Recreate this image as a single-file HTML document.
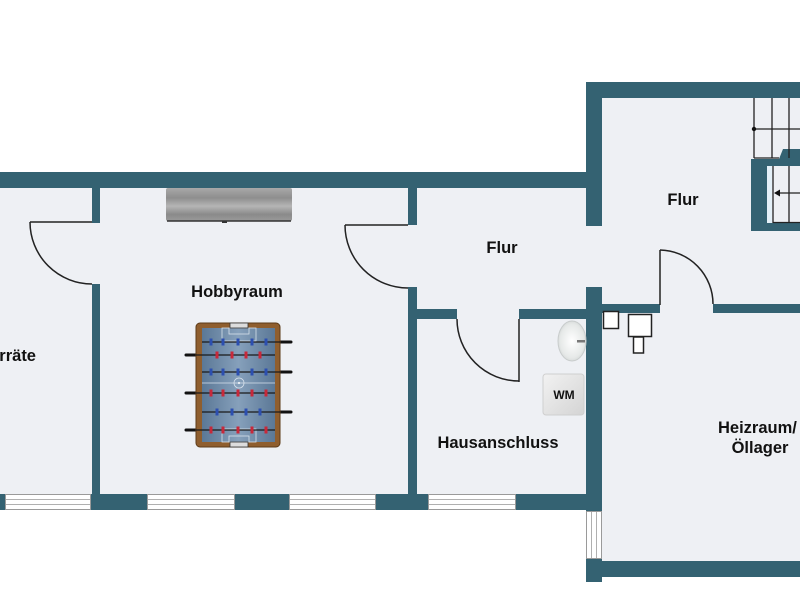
<!DOCTYPE html>
<html><head><meta charset="utf-8"><style>
html,body{margin:0;padding:0;background:#fff;}
svg{display:block;}
text{font-family:"Liberation Sans",Arial,sans-serif;font-weight:bold;fill:#111;}
</style></head><body>
<svg width="800" height="600" viewBox="0 0 800 600" xmlns="http://www.w3.org/2000/svg">
<defs>
<linearGradient id="rad" x1="0" y1="0" x2="0" y2="1">
<stop offset="0" stop-color="#a8a8a8"/><stop offset="0.3" stop-color="#8e8e8e"/><stop offset="0.55" stop-color="#b5b5b5"/><stop offset="0.8" stop-color="#8a8a8a"/><stop offset="1" stop-color="#9a9a9a"/>
</linearGradient>
<linearGradient id="field" x1="0" y1="0" x2="1" y2="0">
<stop offset="0" stop-color="#5b7896"/><stop offset="0.5" stop-color="#86a0bb"/><stop offset="1" stop-color="#5b7896"/>
</linearGradient>
<radialGradient id="sink" cx="0.5" cy="0.5" r="0.6">
<stop offset="0" stop-color="#ffffff"/><stop offset="0.7" stop-color="#e6e9e8"/><stop offset="1" stop-color="#c9cdcc"/>
</radialGradient>
<linearGradient id="wm" x1="0" y1="0" x2="1" y2="1">
<stop offset="0" stop-color="#f2f2f2"/><stop offset="1" stop-color="#d4d4d4"/>
</linearGradient>
</defs>
<rect width="800" height="600" fill="#fff"/>
<!-- floors -->
<rect x="0" y="180" width="600" height="322" fill="#eef0f4"/>
<rect x="594" y="90" width="206" height="480" fill="#eef0f4"/>

<g fill="#346272">
<!-- outer walls -->
<rect x="0" y="172" width="602" height="16"/>
<rect x="586" y="82" width="214" height="16"/>
<rect x="586" y="82" width="16" height="144"/>
<rect x="586" y="287" width="16" height="224"/>
<rect x="586" y="559" width="16" height="23"/>
<rect x="586" y="561" width="214" height="16"/>
<rect x="0" y="494" width="602" height="16"/>
<!-- interior walls -->
<rect x="92" y="188" width="8" height="35"/>
<rect x="92" y="284" width="8" height="210"/>
<rect x="408" y="188" width="9" height="37"/>
<rect x="408" y="287" width="9" height="207"/>
<rect x="408" y="309" width="49" height="10"/>
<rect x="519" y="309" width="67" height="10"/>
<rect x="602" y="304" width="58" height="9"/>
<rect x="713" y="304" width="87" height="9"/>
<!-- stair block -->
<path d="M751,159 L779,159 L783,149 L800,149 L800,231 L751,231 Z"/>
</g>

<!-- windows bottom -->
<g fill="#fff" stroke="#9a9a9a" stroke-width="1">
<rect x="5.5" y="494.5" width="85" height="15"/>
<rect x="147.5" y="494.5" width="87" height="15"/>
<rect x="289.5" y="494.5" width="86" height="15"/>
<rect x="428.5" y="494.5" width="87" height="15"/>
<rect x="586.5" y="511.5" width="15" height="47"/>
</g>
<g stroke="#b0b0b0" stroke-width="1">
<line x1="6" y1="499.5" x2="90" y2="499.5"/><line x1="6" y1="504.5" x2="90" y2="504.5"/>
<line x1="148" y1="499.5" x2="234" y2="499.5"/><line x1="148" y1="504.5" x2="234" y2="504.5"/>
<line x1="290" y1="499.5" x2="375" y2="499.5"/><line x1="290" y1="504.5" x2="375" y2="504.5"/>
<line x1="429" y1="499.5" x2="515" y2="499.5"/><line x1="429" y1="504.5" x2="515" y2="504.5"/>
<line x1="591.5" y1="512" x2="591.5" y2="558"/><line x1="596.5" y1="512" x2="596.5" y2="558"/>
</g>

<!-- doors -->
<g fill="none" stroke="#222" stroke-width="1.5">
<line x1="30" y1="222" x2="92" y2="222"/>
<path d="M30,222 A62,62 0 0 0 92,284"/>
<line x1="345" y1="225" x2="408" y2="225"/>
<path d="M345,225 A63,63 0 0 0 408,288"/>
<line x1="519" y1="319" x2="519" y2="382"/>
<path d="M457,319 A62,62 0 0 0 519,381"/>
<line x1="660" y1="305" x2="660" y2="250"/>
<path d="M660,250 A54,54 0 0 1 713,304"/>
</g>

<!-- stairs -->
<g stroke="#222" stroke-width="1.3" fill="none">
<line x1="754" y1="98" x2="754" y2="158"/>
<line x1="772" y1="98" x2="772" y2="158"/>
<line x1="789" y1="98" x2="789" y2="158"/>
<line x1="754" y1="129" x2="800" y2="129"/>
<line x1="754" y1="158" x2="779" y2="158"/>
</g>
<circle cx="754" cy="129" r="2.2" fill="#111"/>
<rect x="767" y="166" width="5" height="57" fill="#e4f0f8"/>
<rect x="772" y="166" width="28" height="57" fill="#eef0f4"/>
<g stroke="#222" stroke-width="1.3">
<line x1="773" y1="166" x2="773" y2="223"/>
<line x1="789" y1="166" x2="789" y2="223"/>
<line x1="773" y1="222.5" x2="800" y2="222.5"/>
<line x1="778" y1="193" x2="800" y2="193"/>
</g>
<path d="M774,193 L780,189.5 L780,196.5 Z" fill="#111"/>

<!-- small boxes -->
<g fill="#fff" stroke="#222" stroke-width="1.5">
<rect x="603.5" y="311.5" width="15" height="17"/>
<rect x="628.5" y="314.5" width="23" height="22"/>
<rect x="633.5" y="337" width="10" height="16"/>
</g>

<!-- sink -->
<ellipse cx="572" cy="341" rx="14" ry="20" fill="url(#sink)" stroke="#c8cccc" stroke-width="1"/>
<rect x="577" y="340" width="8" height="2.5" fill="#777"/>
<!-- WM -->
<rect x="543" y="374" width="41" height="41" rx="3" fill="url(#wm)" stroke="#cfcfcf"/>
<text x="564" y="399" font-size="12" text-anchor="middle">WM</text>

<!-- radiator -->
<rect x="166" y="188" width="126" height="33" rx="2" fill="url(#rad)"/>
<line x1="167" y1="221" x2="291" y2="221" stroke="#333" stroke-width="1.5"/>
<rect x="222" y="221" width="5" height="2" fill="#333"/>

<!-- foosball -->
<g stroke="#111" stroke-width="3" stroke-linecap="round">
<line x1="186" y1="355" x2="196" y2="355"/>
<line x1="186" y1="393" x2="196" y2="393"/>
<line x1="186" y1="430" x2="196" y2="430"/>
<line x1="280" y1="342" x2="291" y2="342"/>
<line x1="280" y1="372" x2="291" y2="372"/>
<line x1="280" y1="412" x2="291" y2="412"/>
</g>
<rect x="196" y="323" width="84" height="124" rx="4" fill="#8f5e2e" stroke="#5c3b19" stroke-width="1"/>
<rect x="202" y="328" width="73" height="114" fill="url(#field)"/>
<g fill="none" stroke="#d8e2ec" stroke-width="0.8">
<rect x="222" y="328" width="34" height="13"/>
<rect x="229" y="328" width="20" height="6"/>
<rect x="222" y="429" width="34" height="13"/>
<rect x="229" y="436" width="20" height="6"/>
<line x1="202" y1="383" x2="275" y2="383"/>
<circle cx="239" cy="383" r="5"/>
</g>
<circle cx="239" cy="383" r="1" fill="#fff"/>
<rect x="230" y="323" width="18" height="5" fill="#ddd" stroke="#333" stroke-width="0.8"/>
<rect x="230" y="442" width="18" height="5" fill="#ddd" stroke="#333" stroke-width="0.8"/>
<g stroke="#1a1a1a" stroke-width="1.2">
<line x1="202" y1="342" x2="280" y2="342"/>
<line x1="196" y1="355" x2="275" y2="355"/>
<line x1="202" y1="372" x2="280" y2="372"/>
<line x1="196" y1="393" x2="275" y2="393"/>
<line x1="202" y1="412" x2="280" y2="412"/>
<line x1="196" y1="430" x2="275" y2="430"/>
</g>
<g fill="#2c4fb0">
<rect x="209.5" y="338.5" width="3" height="7"/><rect x="221.5" y="338.5" width="3" height="7"/><rect x="236.5" y="338.5" width="3" height="7"/><rect x="250.5" y="338.5" width="3" height="7"/><rect x="264.5" y="338.5" width="3" height="7"/>
<rect x="209.5" y="368.5" width="3" height="7"/><rect x="221.5" y="368.5" width="3" height="7"/><rect x="236.5" y="368.5" width="3" height="7"/><rect x="250.5" y="368.5" width="3" height="7"/><rect x="264.5" y="368.5" width="3" height="7"/>
<rect x="215.5" y="408.5" width="3" height="7"/><rect x="230.5" y="408.5" width="3" height="7"/><rect x="244.5" y="408.5" width="3" height="7"/><rect x="258.5" y="408.5" width="3" height="7"/>
</g>
<g fill="#c8283a">
<rect x="215.5" y="351.5" width="3" height="7"/><rect x="230.5" y="351.5" width="3" height="7"/><rect x="244.5" y="351.5" width="3" height="7"/><rect x="258.5" y="351.5" width="3" height="7"/>
<rect x="209.5" y="389.5" width="3" height="7"/><rect x="221.5" y="389.5" width="3" height="7"/><rect x="236.5" y="389.5" width="3" height="7"/><rect x="250.5" y="389.5" width="3" height="7"/><rect x="264.5" y="389.5" width="3" height="7"/>
<rect x="209.5" y="426.5" width="3" height="7"/><rect x="221.5" y="426.5" width="3" height="7"/><rect x="236.5" y="426.5" width="3" height="7"/><rect x="250.5" y="426.5" width="3" height="7"/><rect x="264.5" y="426.5" width="3" height="7"/>
</g>

<!-- labels -->
<g font-size="16.5">
<text x="683" y="205" text-anchor="middle">Flur</text>
<text x="502" y="253" text-anchor="middle">Flur</text>
<text x="237" y="297" text-anchor="middle">Hobbyraum</text>
<text x="498" y="448" text-anchor="middle">Hausanschluss</text>
<text x="718" y="433">Heizraum/</text>
<text x="760" y="453" text-anchor="middle">Öllager</text>
<text x="36" y="361" text-anchor="end">Vorräte</text>
</g>
</svg>
</body></html>
